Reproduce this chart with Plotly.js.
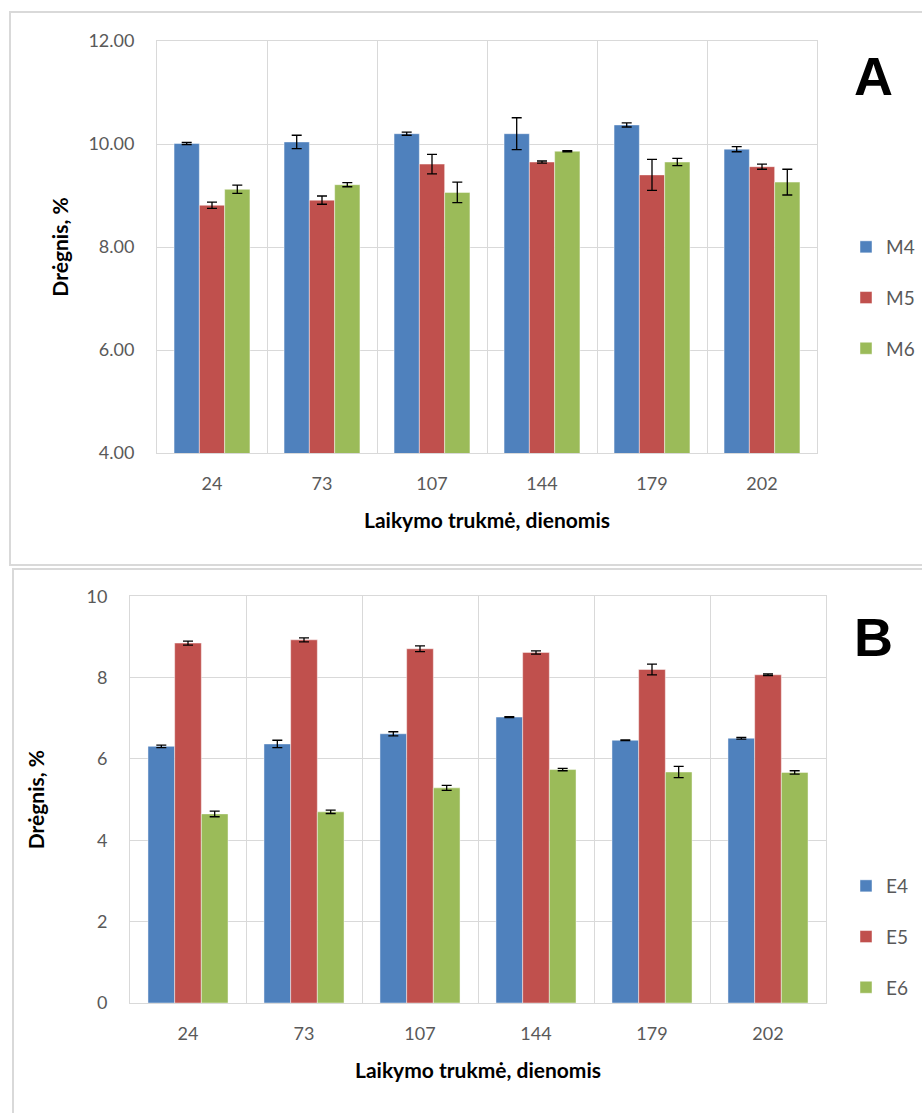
<!DOCTYPE html>
<html>
<head>
<meta charset="utf-8">
<script src="https://cdn.plot.ly/plotly-3.0.1.min.js"></script>
<style>html,body{margin:0;padding:0;background:#fff;}#chart{width:922px;height:1113px;}</style>
</head>
<body>
<div id="chart"></div>
<script>
// Storage duration categories (days)
const days = ['24', '73', '107', '144', '179', '202'];

// Panel A: moisture, %
const M4 = [10.01, 10.04, 10.20, 10.20, 10.37, 9.90];
const M4err = [0.02, 0.13, 0.03, 0.31, 0.04, 0.05];
const M5 = [8.81, 8.91, 9.61, 9.65, 9.40, 9.56];
const M5err = [0.06, 0.08, 0.19, 0.02, 0.30, 0.05];
const M6 = [9.12, 9.21, 9.06, 9.86, 9.65, 9.26];
const M6err = [0.08, 0.04, 0.20, 0.01, 0.07, 0.25];

// Panel B: moisture, %
const E4 = [6.31, 6.37, 6.62, 7.03, 6.46, 6.51];
const E4err = [0.03, 0.09, 0.05, 0.01, 0.01, 0.02];
const E5 = [8.85, 8.93, 8.71, 8.62, 8.20, 8.07];
const E5err = [0.05, 0.05, 0.07, 0.04, 0.13, 0.02];
const E6 = [4.65, 4.70, 5.29, 5.74, 5.68, 5.67];
const E6err = [0.07, 0.04, 0.06, 0.03, 0.14, 0.04];

const yTicksA = [4, 6, 8, 10, 12];
const yTicksB = [0, 2, 4, 6, 8, 10];

const colors = ['#4F81BD', '#C0504D', '#9BBB59'];
const W = 922, H = 1113;
const FONT = 'Lato, "Open Sans", sans-serif';

function bar(name, y, err, color, xa, ya, leg) {
  return {
    type: 'bar', name: name, x: days, y: y,
    xaxis: xa, yaxis: ya, legend: leg, legendgroup: name,
    marker: {color: color, line: {color: 'rgba(255,255,255,0.45)', width: 1}},
    error_y: {type: 'data', array: err, visible: true, color: '#000', thickness: 1.3, width: 5},
    hoverinfo: 'y'
  };
}

const data = [
  bar('M4', M4, M4err, colors[0], 'x', 'y', 'legend'),
  bar('M5', M5, M5err, colors[1], 'x', 'y', 'legend'),
  bar('M6', M6, M6err, colors[2], 'x', 'y', 'legend'),
  bar('E4', E4, E4err, colors[0], 'x2', 'y2', 'legend2'),
  bar('E5', E5, E5err, colors[1], 'x2', 'y2', 'legend2'),
  bar('E6', E6, E6err, colors[2], 'x2', 'y2', 'legend2')
];

const px = v => v / W;
const py = v => 1 - v / H;

const tickFont = {family: FONT, size: 18, color: '#595959'};
const titleFont = {family: FONT, size: 21, color: '#000', weight: 'bold'};

function xaxis(domain, anchor) {
  return {
    domain: domain, anchor: anchor, type: 'category',
    tickson: 'boundaries', ticks: '', showgrid: true, gridcolor: '#d9d9d9', gridwidth: 1,
    showline: true, linecolor: '#d9d9d9', linewidth: 1, mirror: true,
    tickfont: tickFont, ticklabelstandoff: 14,
    title: {text: 'Laikymo trukmė, dienomis', font: titleFont, standoff: 20},
    automargin: false, fixedrange: true
  };
}
function yaxis(domain, anchor, range, ticks, fmt, standoff) {
  return {
    domain: domain, anchor: anchor, range: range, tickvals: ticks, tickformat: fmt,
    showgrid: true, gridcolor: '#d9d9d9', gridwidth: 1, zeroline: false,
    showline: true, linecolor: '#d9d9d9', linewidth: 1, mirror: true,
    ticks: '', tickfont: tickFont, ticklabelstandoff: 18,
    title: {text: 'Drėgnis, %', font: titleFont, standoff: standoff},
    automargin: false, fixedrange: true
  };
}

const layout = {
  width: W, height: H,
  margin: {l: 0, r: 0, t: 0, b: 0},
  paper_bgcolor: '#fff', plot_bgcolor: '#fff',
  font: {family: FONT},
  barmode: 'group', bargap: 0.31, bargroupgap: 0,
  showlegend: true,
  xaxis: xaxis([px(157), px(817)], 'y'),
  yaxis: yaxis([py(453), py(41)], 'x', [4, 12], yTicksA, '.2f', 14),
  xaxis2: xaxis([px(130), px(826)], 'y2'),
  yaxis2: yaxis([py(1003), py(596.3)], 'x2', [0, 10], yTicksB, 'd', 36),
  legend: {
    x: px(846), y: py(228), xanchor: 'left', yanchor: 'top',
    font: {family: FONT, size: 19, color: '#595959'},
    tracegroupgap: 23, itemwidth: 30, bgcolor: 'rgba(0,0,0,0)'
  },
  legend2: {
    x: px(846), y: py(867), xanchor: 'left', yanchor: 'top',
    font: {family: FONT, size: 19, color: '#595959'},
    tracegroupgap: 23, itemwidth: 30, bgcolor: 'rgba(0,0,0,0)'
  },
  shapes: [
    {type: 'rect', xref: 'paper', yref: 'paper', x0: px(10), x1: px(940), y0: py(565), y1: py(12),
     line: {color: '#d9d9d9', width: 2}, fillcolor: 'rgba(0,0,0,0)', layer: 'below'},
    {type: 'rect', xref: 'paper', yref: 'paper', x0: px(13), x1: px(940), y0: py(1130), y1: py(569),
     line: {color: '#d9d9d9', width: 2}, fillcolor: 'rgba(0,0,0,0)', layer: 'below'}
  ],
  annotations: [
    {text: '<b>A</b>', xref: 'paper', yref: 'paper', x: px(873), y: py(76), showarrow: false,
     xanchor: 'center', yanchor: 'middle', font: {family: 'Liberation Sans, Arial, sans-serif', size: 54, color: '#000'}},
    {text: '<b>B</b>', xref: 'paper', yref: 'paper', x: px(873), y: py(637), showarrow: false,
     xanchor: 'center', yanchor: 'middle', font: {family: 'Liberation Sans, Arial, sans-serif', size: 54, color: '#000'}}
  ]
};

Plotly.newPlot('chart', data, layout, {displayModeBar: false, staticPlot: true});
</script>
</body>
</html>
